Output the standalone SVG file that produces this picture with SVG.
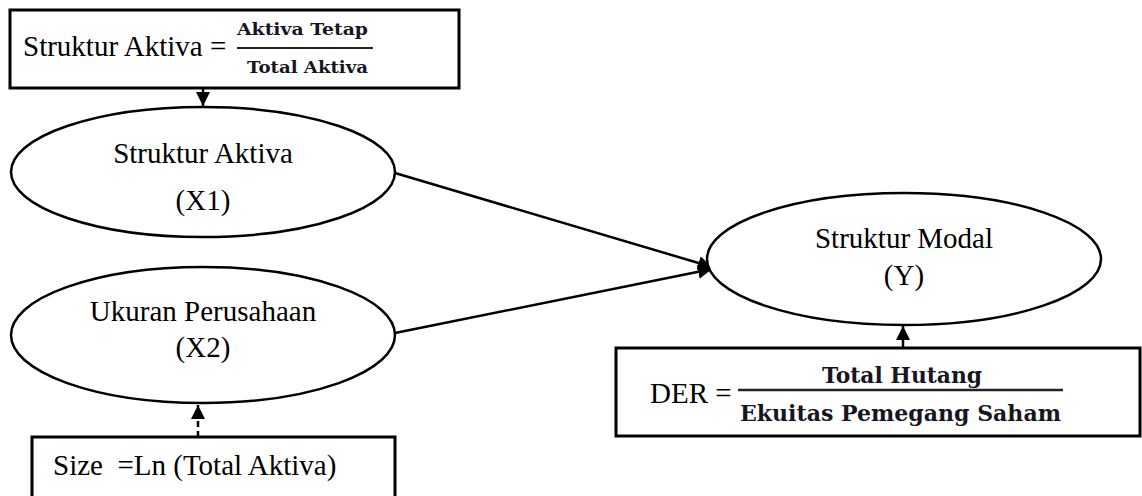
<svg xmlns="http://www.w3.org/2000/svg" width="1142" height="496" viewBox="0 0 1142 496">
<defs>
<marker id="ah" markerWidth="16" markerHeight="16" refX="14" refY="7" orient="auto" markerUnits="userSpaceOnUse">
<path d="M0,0 L14,7 L0,14 Z" fill="#000"/>
</marker>
<style>
.box{fill:#fff;stroke:#000;stroke-width:3}
.ell{fill:#fff;stroke:#000;stroke-width:2.5}
.t{font-family:"Liberation Serif","Times New Roman",serif;font-size:29px;fill:#000}
.f{font-family:"DejaVu Serif","Liberation Serif",serif;font-weight:bold;fill:#161622}
.c{stroke:#000;stroke-width:2.5;fill:none}
</style>
</defs>
<rect width="1142" height="496" fill="#fff"/>
<g id="connectors">
<line class="c" x1="203" y1="88" x2="203" y2="106" marker-end="url(#ah)"/>
<line class="c" x1="395" y1="173" x2="712" y2="267" marker-end="url(#ah)"/>
<line class="c" x1="395" y1="333" x2="712" y2="269" marker-end="url(#ah)"/>
<line class="c" x1="198" y1="437" x2="198" y2="405" stroke-dasharray="6,4" marker-end="url(#ah)"/>
<line class="c" x1="903" y1="348" x2="903" y2="326" marker-end="url(#ah)"/>
</g>
<g id="formula-aktiva">
<rect class="box" x="10" y="10" width="449" height="78"/>
<text class="t" x="23" y="56">Struktur Aktiva =</text>
<text class="f" x="237" y="35" font-size="16" textLength="131" lengthAdjust="spacingAndGlyphs">Aktiva Tetap</text>
<line x1="237" y1="48" x2="373" y2="48" stroke="#222" stroke-width="2"/>
<text class="f" x="247" y="73" font-size="16" textLength="121" lengthAdjust="spacingAndGlyphs">Total Aktiva</text>
</g>
<g id="x1">
<ellipse class="ell" cx="203" cy="172" rx="192" ry="65"/>
<text class="t" x="203" y="163" text-anchor="middle">Struktur Aktiva</text>
<text class="t" x="203" y="210" text-anchor="middle">(X1)</text>
</g>
<g id="x2">
<ellipse class="ell" cx="203" cy="335" rx="192" ry="68"/>
<text class="t" x="203" y="321" text-anchor="middle">Ukuran Perusahaan</text>
<text class="t" x="203" y="357" text-anchor="middle">(X2)</text>
</g>
<g id="y">
<ellipse class="ell" cx="904" cy="259" rx="197" ry="66"/>
<text class="t" x="904" y="248" text-anchor="middle">Struktur Modal</text>
<text class="t" x="904" y="285" text-anchor="middle">(Y)</text>
</g>
<g id="formula-size">
<rect class="box" x="32" y="437" width="363" height="70"/>
<text class="t" x="53" y="475" xml:space="preserve">Size  =Ln (Total Aktiva)</text>
</g>
<g id="formula-der">
<rect class="box" x="616" y="348" width="524" height="88"/>
<text class="t" x="650" y="403">DER =</text>
<text class="f" x="822" y="383" font-size="22" textLength="160" lengthAdjust="spacingAndGlyphs">Total Hutang</text>
<line x1="738" y1="390" x2="1063" y2="390" stroke="#222" stroke-width="2.5"/>
<text class="f" x="740" y="421" font-size="22" textLength="321" lengthAdjust="spacingAndGlyphs">Ekuitas Pemegang Saham</text>
</g>
</svg>
